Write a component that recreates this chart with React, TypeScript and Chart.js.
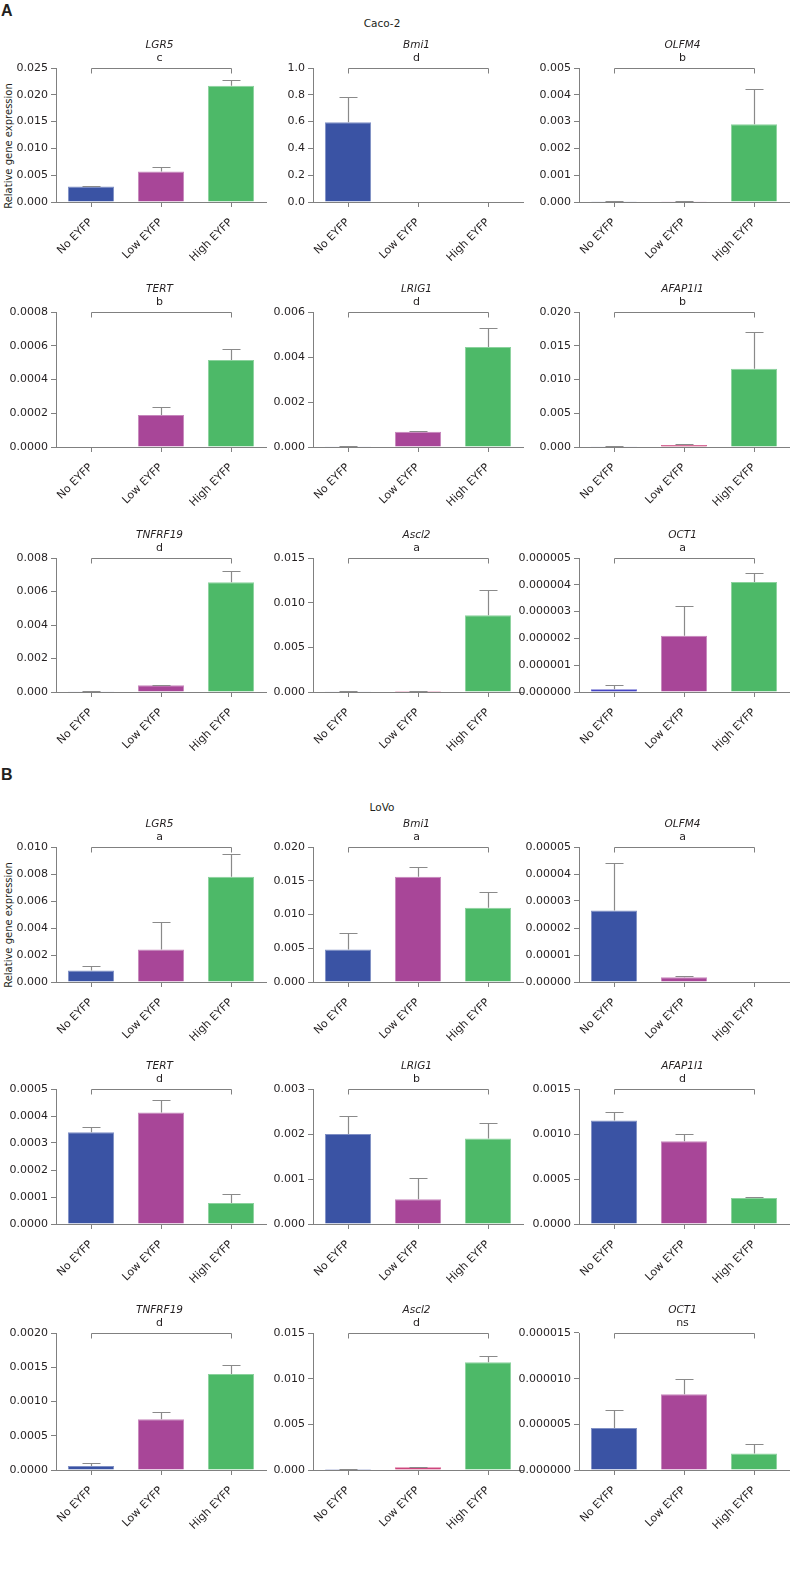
import React, { useEffect, useRef } from "react";
import { Chart, registerables } from "chart.js";
Chart.register(...registerables);

// ---------- DATA ----------
const categories = ["No EYFP", "Low EYFP", "High EYFP"];

const cacoGenes = ["LGR5", "Bmi1", "OLFM4", "TERT", "LRIG1", "AFAP1I1", "TNFRF19", "Ascl2", "OCT1"];
const cacoLetters = ["c", "d", "b", "b", "d", "b", "d", "a", "a"];
const cacoMeans = [
  [0.0029, 0.0057, 0.0217],
  [0.595, 0, 0],
  [0.00003, 0.00003, 0.0029],
  [0, 0.00019, 0.000515],
  [0.00003, 0.00068, 0.00445],
  [0.0001, 0.0003, 0.0116],
  [0.00002, 0.0004, 0.00655],
  [0.00008, 0.0001, 0.0086],
  [0.0000001, 0.0000021, 0.0000041],
];
const cacoErrors = [
  [0.0001, 0.0009, 0.0011],
  [0.185, 0, 0],
  [0.00001, 0.00001, 0.0013],
  [0, 0.00005, 0.000065],
  [0.00001, 0.00004, 0.00085],
  [0.00005, 0.0002, 0.0055],
  [0.00003, 0.00004, 0.00065],
  [0.00004, 0.00005, 0.0028],
  [0.00000015, 0.0000011, 0.00000035],
];
const cacoYMax = [0.025, 1.0, 0.005, 0.0008, 0.006, 0.02, 0.008, 0.015, 0.000005];
const cacoYStep = [0.005, 0.2, 0.001, 0.0002, 0.002, 0.005, 0.002, 0.005, 0.000001];
const cacoDecimals = [3, 1, 3, 4, 3, 3, 3, 3, 6];

const lovoGenes = ["LGR5", "Bmi1", "OLFM4", "TERT", "LRIG1", "AFAP1I1", "TNFRF19", "Ascl2", "OCT1"];
const lovoLetters = ["a", "a", "a", "d", "b", "d", "d", "d", "ns"];
const lovoMeans = [
  [0.00085, 0.0024, 0.0078],
  [0.0048, 0.0156, 0.011],
  [0.0000265, 0.0000018, 0],
  [0.00034, 0.000413, 0.000078],
  [0.002, 0.00055, 0.0019],
  [0.00115, 0.00092, 0.00029],
  [0.00006, 0.00074, 0.0014],
  [0.0001, 0.0003, 0.0118],
  [0.0000046, 0.0000083, 0.0000018],
];
const lovoErrors = [
  [0.0003, 0.00205, 0.0017],
  [0.0024, 0.0014, 0.0024],
  [0.0000175, 0.0000003, 0],
  [0.00002, 0.000047, 0.000034],
  [0.0004, 0.00048, 0.00034],
  [0.0001, 0.00008, 0.00001],
  [0.00004, 0.00011, 0.00013],
  [0.00003, 0.00005, 0.0007],
  [0.000002, 0.0000017, 0.0000011],
];
const lovoYMax = [0.01, 0.02, 0.00005, 0.0005, 0.003, 0.0015, 0.002, 0.015, 0.000015];
const lovoYStep = [0.002, 0.005, 0.00001, 0.0001, 0.001, 0.0005, 0.0005, 0.005, 0.000005];
const lovoDecimals = [3, 3, 5, 4, 3, 4, 4, 3, 6];

// ---------- STYLE / LAYOUT ----------
const BLUE = "#3a53a4";
const MAGENTA = "#a84698";
const GREEN = "#4db968";
const CRIMSON = "#c0145a";
const DARKBLUE = "#1414b4";
const cacoColors = [
  [BLUE, MAGENTA, GREEN], [BLUE, MAGENTA, GREEN], [BLUE, MAGENTA, GREEN],
  [BLUE, MAGENTA, GREEN], [BLUE, MAGENTA, GREEN], [BLUE, CRIMSON, GREEN],
  [BLUE, MAGENTA, GREEN], [BLUE, CRIMSON, GREEN], [DARKBLUE, MAGENTA, GREEN],
];
const lovoColors = [
  [BLUE, MAGENTA, GREEN], [BLUE, MAGENTA, GREEN], [BLUE, MAGENTA, GREEN],
  [BLUE, MAGENTA, GREEN], [BLUE, MAGENTA, GREEN], [BLUE, MAGENTA, GREEN],
  [BLUE, MAGENTA, GREEN], [BLUE, CRIMSON, GREEN], [BLUE, MAGENTA, GREEN],
];

const FONT = "'DejaVu Sans', Verdana, sans-serif";
const AXIS = "#808080";
const TEXT = "#231f20";

const colAxisX = [56, 313, 579];
const colCanvasLeft = [0, 255, 519];
const PLOT_W = 210;
const PAD_TOP = 40;
const X_H = 80;
const cacoRowTop = [68, 312, 558];
const cacoRowZero = [202, 447, 692];
const lovoRowTop = [847, 1089, 1333];
const lovoRowZero = [982, 1224, 1470];

function lighten(hex: string, f: number) {
  const n = parseInt(hex.slice(1), 16);
  const r = (n >> 16) & 255, g = (n >> 8) & 255, b = n & 255;
  const m = (c: number) => Math.round(c + (255 - c) * f);
  return `rgb(${m(r)},${m(g)},${m(b)})`;
}

type PanelProps = {
  gene: string; letter: string; means: number[]; errors: number[];
  yMax: number; yStep: number; decimals: number; colors: string[];
  left: number; top: number; yW: number; plotH: number;
};

function BarPanel(p: PanelProps) {
  const ref = useRef<HTMLCanvasElement | null>(null);
  const width = p.yW + PLOT_W + 8;
  const height = PAD_TOP + p.plotH + X_H;
  useEffect(() => {
    if (!ref.current) return;
    const nTicks = Math.round(p.yMax / p.yStep);
    const tickVals: number[] = [];
    for (let i = 0; i <= nTicks; i++) tickVals.push(i * p.yStep);
    const annot = {
      id: "annot",
      afterDatasetsDraw(chart: any) {
        const ctx = chart.ctx;
        const ys = chart.scales.y;
        const xs = chart.scales.x;
        const meta = chart.getDatasetMeta(0);
        ctx.save();
        ctx.strokeStyle = "#8a8a8a";
        ctx.lineWidth = 1.2;
        meta.data.forEach((bar: any, i: number) => {
          const e = p.errors[i];
          if (!e) return;
          const yb = ys.getPixelForValue(p.means[i]);
          const yt = Math.round(ys.getPixelForValue(p.means[i] + e)) + 0.5;
          const x = Math.round(bar.x) + 0.5;
          ctx.beginPath();
          ctx.moveTo(x, yb);
          ctx.lineTo(x, yt);
          ctx.moveTo(x - 9, yt);
          ctx.lineTo(x + 9, yt);
          ctx.stroke();
        });
        const x0 = Math.round(xs.getPixelForValue(0)) + 0.5;
        const x2 = Math.round(xs.getPixelForValue(2)) + 0.5;
        const top = Math.round(chart.chartArea.top) + 0.5;
        ctx.strokeStyle = AXIS;
        ctx.lineWidth = 1;
        ctx.beginPath();
        ctx.moveTo(x0, top + 5);
        ctx.lineTo(x0, top);
        ctx.lineTo(x2, top);
        ctx.lineTo(x2, top + 5);
        ctx.stroke();
        const cx = (x0 + x2) / 2 - 2;
        ctx.fillStyle = TEXT;
        ctx.textAlign = "center";
        ctx.textBaseline = "middle";
        ctx.font = `italic 10.5px ${FONT}`;
        ctx.fillText(p.gene, cx, top - 23);
        ctx.font = `11px ${FONT}`;
        ctx.fillText(p.letter, cx, top - 10);
        ctx.restore();
      },
    };
    const chart = new Chart(ref.current, {
      type: "bar",
      data: {
        labels: categories,
        datasets: [
          {
            data: p.means,
            backgroundColor: p.colors,
            borderColor: p.colors.map((c) => lighten(c, 0.35)),
            borderWidth: 1,
            barPercentage: 0.66,
            categoryPercentage: 1,
          },
        ],
      },
      options: {
        animation: false,
        responsive: false,
        devicePixelRatio: 1,
        layout: { padding: { top: PAD_TOP, left: 0, bottom: 0, right: width - p.yW - PLOT_W } },
        plugins: { legend: { display: false }, tooltip: { enabled: false }, title: { display: false } },
        scales: {
          x: {
            type: "category",
            offset: true,
            grid: { offset: false, drawOnChartArea: false, tickLength: 5, color: AXIS },
            border: { color: AXIS },
            ticks: { minRotation: 45, maxRotation: 45, autoSkip: false, padding: 9, color: TEXT, font: { family: FONT, size: 11 } },
            afterFit: (s: any) => { s.height = X_H; },
          },
          y: {
            min: 0,
            max: p.yMax,
            afterBuildTicks: (s: any) => { s.ticks = tickVals.map((v) => ({ value: v })); },
            grid: { drawOnChartArea: false, tickLength: 5, color: AXIS },
            border: { color: AXIS },
            ticks: {
              padding: 3,
              color: TEXT,
              font: { family: FONT, size: 11 },
              callback: (v: any) => Number(v).toFixed(p.decimals),
            },
            afterFit: (s: any) => { s.width = p.yW; },
          },
        },
      },
      plugins: [annot],
    } as any);
    return () => chart.destroy();
  }, []);
  return (
    <canvas
      ref={ref}
      width={width}
      height={height}
      style={{ position: "absolute", left: p.left, top: p.top, width, height }}
    />
  );
}

const labelStyle: React.CSSProperties = {
  position: "absolute",
  fontFamily: FONT,
  color: TEXT,
  whiteSpace: "nowrap",
};

export default function App() {
  const panels: any[] = [];
  const addPanel = (
    key: string, genes: string[], letters: string[], means: number[][], errors: number[][],
    yMax: number[], yStep: number[], decs: number[], colors: string[][], rowTop: number[], rowZero: number[]
  ) => {
    for (let i = 0; i < 9; i++) {
      const r = Math.floor(i / 3), c = i % 3;
      panels.push(
        <BarPanel
          key={key + i}
          gene={genes[i]} letter={letters[i]} means={means[i]} errors={errors[i]}
          yMax={yMax[i]} yStep={yStep[i]} decimals={decs[i]} colors={colors[i]}
          left={colCanvasLeft[c]} top={rowTop[r] - PAD_TOP}
          yW={colAxisX[c] - colCanvasLeft[c]} plotH={rowZero[r] - rowTop[r]}
        />
      );
    }
  };
  addPanel("c", cacoGenes, cacoLetters, cacoMeans, cacoErrors, cacoYMax, cacoYStep, cacoDecimals, cacoColors, cacoRowTop, cacoRowZero);
  addPanel("l", lovoGenes, lovoLetters, lovoMeans, lovoErrors, lovoYMax, lovoYStep, lovoDecimals, lovoColors, lovoRowTop, lovoRowZero);

  return (
    <div style={{ position: "absolute", left: 0, top: 0, width: 790, height: 1582, background: "#fff", overflow: "hidden" }}>
      <div style={{ ...labelStyle, left: 1, top: 2, fontFamily: "'Liberation Sans', Arial, sans-serif", fontWeight: "bold", fontSize: 16, lineHeight: "18px" }}>A</div>
      <div style={{ ...labelStyle, left: 1, top: 766, fontFamily: "'Liberation Sans', Arial, sans-serif", fontWeight: "bold", fontSize: 16, lineHeight: "18px" }}>B</div>
      <div style={{ ...labelStyle, left: 382, top: 23, fontSize: 10.5, transform: "translate(-50%, -50%)" }}>Caco-2</div>
      <div style={{ ...labelStyle, left: 382, top: 807, fontSize: 10.5, transform: "translate(-50%, -50%)" }}>LoVo</div>
      <div style={{ ...labelStyle, left: 8, top: 146, fontSize: 10, transform: "translate(-50%, -50%) rotate(-90deg)" }}>Relative gene expression</div>
      <div style={{ ...labelStyle, left: 8, top: 925, fontSize: 10, transform: "translate(-50%, -50%) rotate(-90deg)" }}>Relative gene expression</div>
      {panels}
    </div>
  );
}
